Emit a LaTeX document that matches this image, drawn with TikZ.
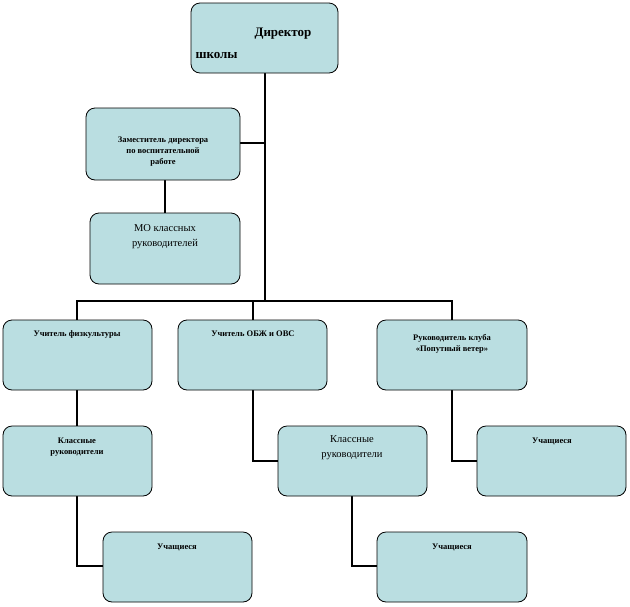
\documentclass[tikz,border=0pt]{standalone}
\usepackage{fontspec}
\setmainfont{Liberation Serif}
\begin{document}
\begin{tikzpicture}[x=1pt,y=-1pt,
  bx/.style={draw=black,line width=0.8pt,fill={rgb,255:red,186;green,222;blue,225},rounded corners=9pt},
  ln/.style={line width=2.6pt,line cap=rect},
  tb/.style={font=\bfseries\fontsize{8.5}{11}\selectfont,align=center},
  tn/.style={font=\fontsize{10.5}{15}\selectfont,align=center}]
\useasboundingbox (0,0) rectangle (630,606);
% lines first
\coordinate (b1) at (77,301); \coordinate (b3) at (452,301);
\coordinate (j1) at (265,301); \coordinate (dh) at (265,143);
\draw[ln] (265,73) -- (j1);
\draw[ln] (240,143) -- (dh);
\draw[ln] (165,180) -- (165,213);
\draw[ln] (b1) -- (b3);
\draw[ln] (b1) -- (77,320);
\draw[ln] (253,301) -- (253,320);
\draw[ln] (b3) -- (452,320);
\draw[ln] (77,390) -- (77,426);
\draw[ln] (77,496) -- (77,566) -- (103,566);
\draw[ln] (253,390) -- (253,461) -- (278,461);
\draw[ln] (352,496) -- (352,566) -- (377,566);
\draw[ln] (452,390) -- (452,461) -- (477,461);
% boxes
\draw[bx] (191,3) rectangle (338,73);
\node[font=\bfseries\fontsize{13}{15}\selectfont] (dir1) at (283,34) {Директор};
\node[font=\bfseries\fontsize{13}{15}\selectfont,anchor=west] (dir2) at (192,55) {школы};
\draw[bx] (86,108) rectangle (240,180);
\node[tb] (dep) at (163,152) {Заместитель директора\\по воспитательной\\работе};
\draw[bx] (90,213) rectangle (240,284);
\node[tn] (mo) at (165,237) {МО классных\\руководителей};
\draw[bx] (3,320) rectangle (152,390);
\node[tb] (pe) at (77,334) {Учитель физкультуры};
\draw[bx] (178,320) rectangle (327,390);
\node[tb] (obz) at (253,334) {Учитель ОБЖ и ОВС};
\draw[bx] (377,320) rectangle (527,390);
\node[tb] (club) at (452,344) {Руководитель клуба\\«Попутный ветер»};
\draw[bx] (3,426) rectangle (152,496);
\node[tb] (cr1) at (77,447) {Классные\\руководители};
\draw[bx] (278,426) rectangle (427,496);
\node[tn] (cr2) at (352,448) {Классные\\руководители};
\draw[bx] (477,426) rectangle (626,496);
\node[tb] (p3) at (552,441) {Учащиеся};
\draw[bx] (103,532) rectangle (252,602);
\node[tb] (p1) at (177,547) {Учащиеся};
\draw[bx] (377,532) rectangle (527,602);
\node[tb] (p2) at (452,547) {Учащиеся};
\end{tikzpicture}
\end{document}
